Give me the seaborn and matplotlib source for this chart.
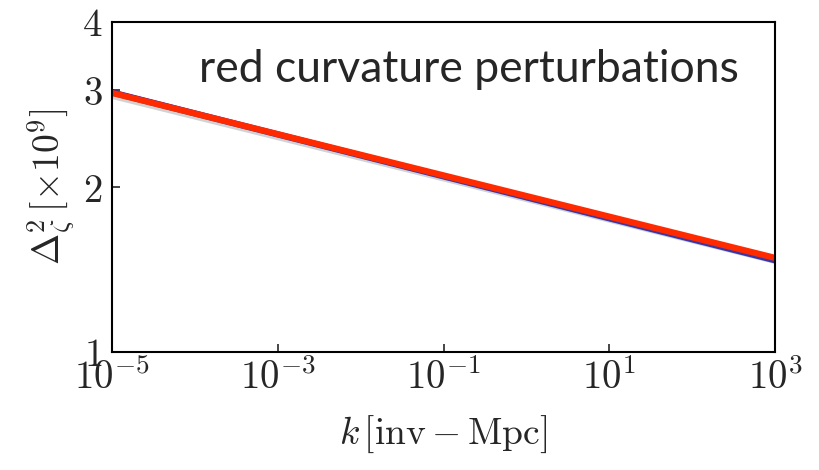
import numpy as np
import pandas as pd
import matplotlib
matplotlib.use("Agg")
import matplotlib.pyplot as plt
import matplotlib.patheffects as pe
import seaborn as sns

k_vals = [1e-5, 1e3]
red_vals = [2.97, 1.485]
blue_vals = [2.975, 1.47]
x_ticks = [1e-5, 1e-3, 1e-1, 1e1, 1e3]
y_ticks = [1, 2, 3, 4]
y_ticklabels = ["1", "2", "3", "4"]

sns.set_style("white")
plt.rcParams["mathtext.fontset"] = "cm"
plt.rcParams["font.family"] = ["DejaVu Serif"]

fig = plt.figure(figsize=(8.19, 4.70), dpi=100)
ax = fig.add_axes([112/819, 1-352/470, (775-112)/819, (352-22)/470])

df_blue = pd.DataFrame({"k": k_vals, "v": blue_vals})
df_red = pd.DataFrame({"k": k_vals, "v": red_vals})
sns.lineplot(data=df_blue, x="k", y="v", ax=ax, color="#1010c0", lw=4.5)
sns.lineplot(data=df_red, x="k", y="v", ax=ax, color="#ff2a00", lw=4.5,
             path_effects=[pe.SimpleLineShadow(offset=(1.5, -2.5), alpha=0.35, shadow_color="gray"),
                           pe.Normal()])

ax.set_xscale("log")
ax.set_yscale("log")
ax.set_xlim(1e-5, 1e3)
ax.set_ylim(1, 4)
ax.set_xticks(x_ticks)
ax.set_xticklabels([r"$10^{%d}$" % int(np.log10(t)) for t in x_ticks])
ax.set_yticks(y_ticks)
ax.set_yticklabels([r"$\mathrm{%s}$" % s for s in y_ticklabels])
ax.minorticks_off()
ax.tick_params(axis="both", which="major", direction="in", length=6, width=1.2,
               labelsize=28, bottom=True, left=True, top=False, right=False)
ax.tick_params(axis="x", pad=5)
ax.tick_params(axis="y", pad=7)
for s in ax.spines.values():
    s.set_linewidth(1.5)
    s.set_color("black")

ax.set_xlabel(r"$k\,[\mathrm{inv-Mpc}]$", fontsize=27, labelpad=12)
ax.set_ylabel(r"$\Delta^2_\zeta\,[\times 10^9]$", fontsize=27, labelpad=4)

ax.text(0.945, 0.855, "red curvature perturbations", transform=ax.transAxes,
        ha="right", va="center", fontsize=32, family=["Lato", "DejaVu Sans"])

fig.savefig("out.png", dpi=100)
